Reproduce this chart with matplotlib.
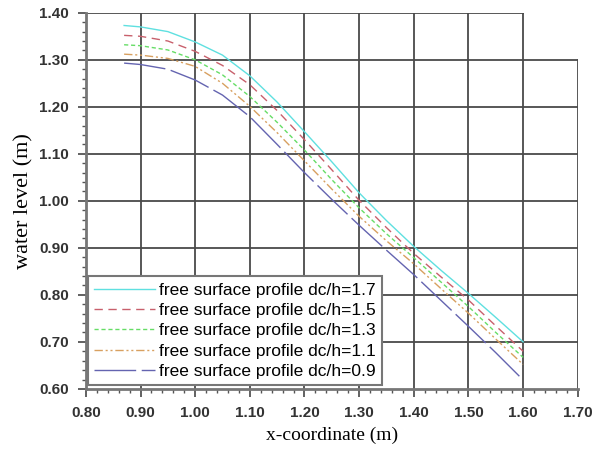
import numpy as np
import matplotlib.pyplot as plt
from matplotlib.ticker import MultipleLocator

# datos
x = [0.87, 0.90, 0.95, 1.00, 1.05, 1.10, 1.15, 1.20, 1.25, 1.30, 1.35, 1.40, 1.45, 1.50, 1.55, 1.60]
y_17 = [1.373, 1.370, 1.360, 1.338, 1.310, 1.266, 1.210, 1.147, 1.083, 1.017, 0.958, 0.903, 0.852, 0.803, 0.752, 0.700]
y_15 = [1.352, 1.350, 1.340, 1.318, 1.288, 1.247, 1.192, 1.130, 1.066, 1.001, 0.943, 0.888, 0.838, 0.789, 0.734, 0.680]
y_13 = [1.332, 1.330, 1.321, 1.300, 1.268, 1.222, 1.167, 1.108, 1.045, 0.985, 0.930, 0.879, 0.827, 0.775, 0.720, 0.667]
y_11 = [1.312, 1.310, 1.303, 1.286, 1.250, 1.201, 1.145, 1.085, 1.025, 0.967, 0.915, 0.866, 0.813, 0.761, 0.706, 0.652]
y_09 = [1.293, 1.290, 1.280, 1.257, 1.225, 1.179, 1.120, 1.060, 1.003, 0.948, 0.895, 0.843, 0.788, 0.733, 0.677, 0.619]

etiquetas = ["free surface profile dc/h=1.7", "free surface profile dc/h=1.5",
             "free surface profile dc/h=1.3", "free surface profile dc/h=1.1",
             "free surface profile dc/h=0.9"]

xticks = [0.80, 0.90, 1.00, 1.10, 1.20, 1.30, 1.40, 1.50, 1.60, 1.70]
yticks = [0.60, 0.70, 0.80, 0.90, 1.00, 1.10, 1.20, 1.30, 1.40]

fig = plt.figure(figsize=(5.92, 4.57), dpi=100)
ax = fig.add_axes([0.145, 0.149, 0.831, 0.823])

# rejilla dibujada a mano (la original esta recortada arriba a la derecha)
gc = '#4a4a4a'
for xv in xticks[1:]:
    top = 1.30 if xv == 1.70 else 1.40
    ax.plot([xv, xv], [0.60, top], color=gc, lw=1.3, zorder=1)
for yv in yticks[1:]:
    right = 1.60 if yv == 1.40 else 1.70
    ax.plot([0.80, right], [yv, yv], color=gc, lw=1.3, zorder=1)

ax.plot(x, y_17, color='#5fe0e0', lw=1.0, label=etiquetas[0])
ax.plot(x, y_15, color='#c8606c', lw=1.0, dashes=(6, 4), label=etiquetas[1])
ax.plot(x, y_13, color='#66dd66', lw=1.0, dashes=(3, 2), label=etiquetas[2])
ax.plot(x, y_11, color='#d8a060', lw=1.0, dashes=(6, 2, 1.5, 2, 1.5, 2), label=etiquetas[3])
ax.plot(x, y_09, color='#6464b0', lw=1.0, dashes=(30, 4), label=etiquetas[4])

ax.set_xlim(0.80, 1.70)
ax.set_ylim(0.60, 1.40)
ax.set_xticks(xticks)
ax.set_yticks(yticks)
ax.set_xticklabels(["%.2f" % v for v in xticks])
ax.set_yticklabels(["%.2f" % v for v in yticks])
ax.xaxis.set_minor_locator(MultipleLocator(0.02))
ax.yaxis.set_minor_locator(MultipleLocator(0.02))
ax.tick_params(which='major', length=6, width=1.3, color='#555555', direction='out', pad=6)
ax.tick_params(which='minor', length=3, width=1.0, color='#555555', direction='out')
for lab in ax.get_xticklabels() + ax.get_yticklabels():
    lab.set_family('Liberation Sans')
    lab.set_fontweight('bold')
    lab.set_fontsize(11)
    lab.set_color('#333333')

ax.spines['top'].set_visible(False)
ax.spines['right'].set_visible(False)
ax.spines['left'].set_color('#777777')
ax.spines['bottom'].set_color('#777777')
ax.spines['left'].set_linewidth(2)
ax.spines['bottom'].set_linewidth(2)

ax.set_xlabel("x-coordinate (m)", family='Liberation Serif', fontsize=14, labelpad=5)
ax.set_ylabel("water level (m)", family='Liberation Serif', fontsize=16, labelpad=4)

leg = ax.legend(loc='lower left', bbox_to_anchor=(0.005, 0.01), fancybox=False,
                framealpha=1, edgecolor='#777777', prop={'family': 'Liberation Sans', 'size': 12.5},
                handlelength=3.5, handletextpad=0.25, labelspacing=0.3, borderpad=0.35,
                borderaxespad=0)
leg.get_frame().set_linewidth(1.5)

fig.savefig("out.png", dpi=100)
